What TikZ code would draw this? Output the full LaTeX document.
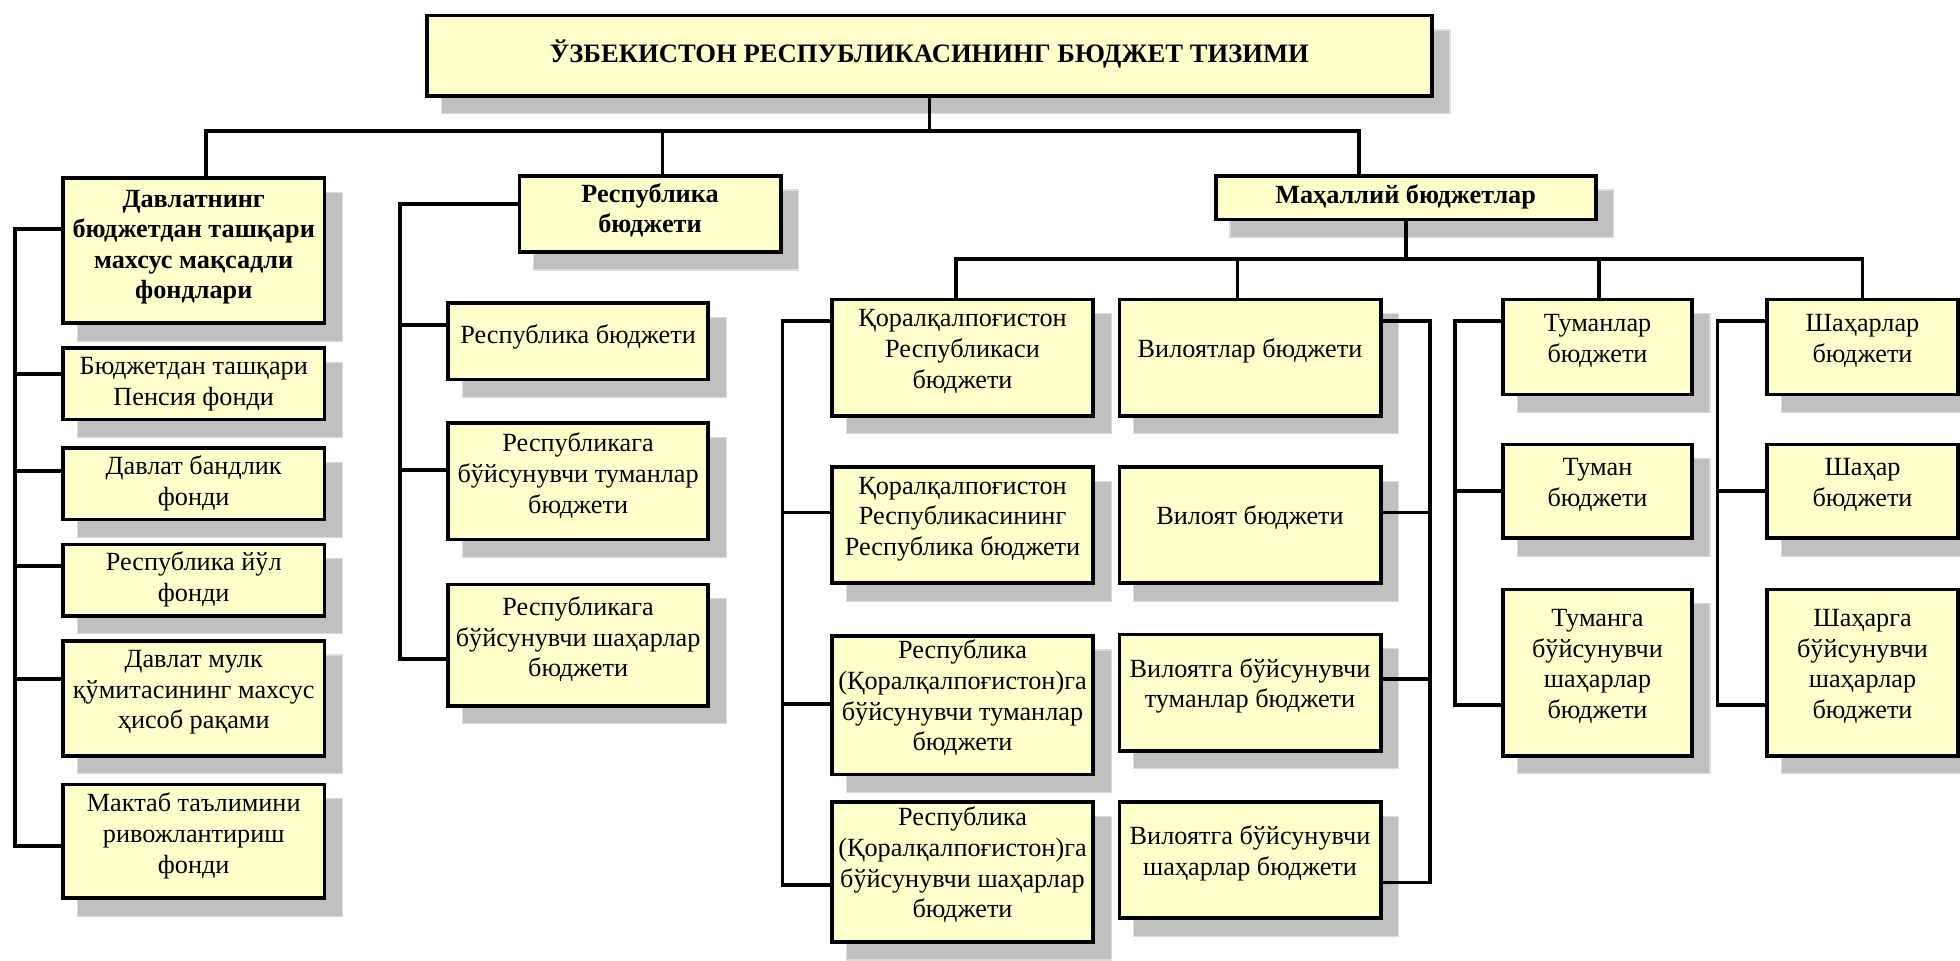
\documentclass[tikz,border=0pt]{standalone}
\usepackage{fontspec}
\setmainfont{Liberation Serif}
\definecolor{boxfill}{HTML}{FFFFCC}
\definecolor{shade}{HTML}{C0C0C0}
\definecolor{shadeedge}{HTML}{DCDCDC}
\newcommand\bodyfont{\fontsize{21}{24.5}\selectfont}
\def\rs{5pt}
\newcommand\bt[1]{\raisebox{\rs}[\height][\depth]{\begin{tabular}{@{}c@{}}#1\end{tabular}}}
\tikzset{
  bx/.style={draw=black, line width=3pt, fill=boxfill, inner sep=0pt, font=\bodyfont},
  conn/.style={draw=black, line width=3pt},
  shadowbox/.style={fill=shade, draw=shadeedge, line width=1pt}
}
% [font/extra] name x1 y1 x2 y2 text
\newcommand\bx[7][]{%
  \path[shadowbox] ({#3+13},{#4+13}) rectangle ({#5+13},{#6+13});
  \node[bx, minimum width={(#5-#3-3)*1pt}, minimum height={(#6-#4-3)*1pt}] (#2) at ({(#3+#5)/2},{(#4+#6)/2}) {#1\bt{#7}};
}
\begin{document}
\begin{tikzpicture}[x=1pt, y=-1pt]
\useasboundingbox (0,0) rectangle (1568,768);

\bx[\bfseries\fontsize{21.3}{25}\selectfont\def\rs{0pt}]{title}{340}{11}{1147}{78}{ЎЗБЕКИСТОН РЕСПУБЛИКАСИНИНГ БЮДЖЕТ ТИЗИМИ}

\bx[\bfseries\def\rs{3pt}]{A}{49}{141}{261}{260}{Давлатнинг\\бюджетдан ташқари\\махсус мақсадли\\фондлари}
\bx[\def\rs{0pt}]{a1}{49}{277}{261}{337}{Бюджетдан ташқари\\Пенсия фонди}
\bx[\def\rs{0pt}]{a2}{49}{357}{261}{417}{Давлат бандлик\\фонди}
\bx[\def\rs{0pt}]{a3}{49}{434}{261}{494}{Республика йўл\\фонди}
\bx{a4}{49}{511}{261}{606}{Давлат мулк\\қўмитасининг махсус\\ҳисоб рақами}
\bx[\def\rs{4pt}]{a5}{49}{626}{261}{720}{Мактаб таълимини\\ривожлантириш\\фонди}

\bx[\bfseries\def\rs{2pt}]{B}{414}{139}{626}{203}{Республика\\бюджети}
\bx[\def\rs{3pt}]{b1}{357}{241}{568}{305}{Республика бюджети}
\bx[\def\rs{4pt}]{b2}{357}{337}{568}{433}{Республикага\\бўйсунувчи туманлар\\бюджети}
\bx[\def\rs{4pt}]{b3}{357}{466}{568}{566}{Республикага\\бўйсунувчи шаҳарлар\\бюджети}

\bx[\bfseries\def\rs{0pt}]{C}{971}{139}{1278}{177}{Маҳаллий бюджетлар}

\bx{q1}{664}{238}{876}{334}{Қоралқалпоғистон\\Республикаси\\бюджети}
\bx{q2}{664}{372}{876}{468}{Қоралқалпоғистон\\Республикасининг\\Республика бюджети}
\bx{q3}{664}{507}{876}{621}{Республика\\(Қоралқалпоғистон)га\\бўйсунувчи туманлар\\бюджети}
\bx{q4}{664}{640}{876}{755}{Республика\\(Қоралқалпоғистон)га\\бўйсунувчи шаҳарлар\\бюджети}

\bx{v1}{894}{238}{1106}{334}{Вилоятлар бюджети}
\bx{v2}{894}{372}{1106}{468}{Вилоят бюджети}
\bx{v3}{894}{506}{1106}{602}{Вилоятга бўйсунувчи\\туманлар бюджети}
\bx{v4}{894}{640}{1106}{736}{Вилоятга бўйсунувчи\\шаҳарлар бюджети}

\bx{t1}{1201}{238}{1355}{317}{Туманлар\\бюджети}
\bx{t2}{1201}{354}{1355}{432}{Туман\\бюджети}
\bx{t3}{1201}{470}{1355}{606}{Туманга\\бўйсунувчи\\шаҳарлар\\бюджети}

\bx{s1}{1412}{238}{1568}{317}{Шаҳарлар\\бюджети}
\bx{s2}{1412}{354}{1568}{432}{Шаҳар\\бюджети}
\bx{s3}{1412}{470}{1568}{606}{Шаҳарга\\бўйсунувчи\\шаҳарлар\\бюджети}

% top bus
\coordinate (bl) at (165,105);
\coordinate (bm) at (530,105);
\coordinate (br) at (1087,105);
\draw[conn] (title.south) -- (title.south |- bl);
\draw[conn] (bl |- A.north) -- (bl) -- (br) -- (br |- C.north);
\draw[conn] (bm) -- (bm |- B.north);

% local budgets bus
\coordinate (m1) at (765,207);
\coordinate (m2) at (990,207);
\coordinate (m3) at (1279,207);
\coordinate (m4) at (1490,207);
\draw[conn] (C.south) -- (C.south |- m1);
\draw[conn] (m1 |- q1.north) -- (m1) -- (m4) -- (m4 |- s1.north);
\draw[conn] (m2) -- (m2 |- v1.north);
\draw[conn] (m3) -- (m3 |- t1.north);

% left spine
\coordinate (LS) at (12,0);
\draw[conn] (A.west |- 0,183) -- (LS |- 0,183) -- (LS |- 0,677) -- (a5.west |- 0,677);
\draw[conn] (a1.west |- 0,299) -- (LS |- 0,299);
\draw[conn] (a2.west |- 0,377) -- (LS |- 0,377);
\draw[conn] (a3.west |- 0,453) -- (LS |- 0,453);
\draw[conn] (a4.west |- 0,543) -- (LS |- 0,543);

% republic spine
\coordinate (RS) at (320,0);
\draw[conn] (B.west |- 0,163) -- (RS |- 0,163) -- (RS |- 0,527) -- (b3.west |- 0,527);
\draw[conn] (b1.west |- 0,260) -- (RS |- 0,260);
\draw[conn] (b2.west |- 0,376) -- (RS |- 0,376);

% Qoraqalpog'iston spine
\coordinate (QS) at (626,0);
\draw[conn] (q1.west |- 0,257) -- (QS |- 0,257) -- (QS |- 0,708) -- (q4.west |- 0,708);
\draw[conn] (q2.west |- 0,410) -- (QS |- 0,410);
\draw[conn] (q3.west |- 0,563) -- (QS |- 0,563);

% viloyat spine
\coordinate (VS) at (1144,0);
\draw[conn] (v1.east |- 0,257) -- (VS |- 0,257) -- (VS |- 0,706) -- (v4.east |- 0,706);
\draw[conn] (v2.east |- 0,410) -- (VS |- 0,410);
\draw[conn] (v3.east |- 0,543) -- (VS |- 0,543);

% tuman spine
\coordinate (TS) at (1164,0);
\draw[conn] (t1.west |- 0,257) -- (TS |- 0,257) -- (TS |- 0,564) -- (t3.west |- 0,564);
\draw[conn] (t2.west |- 0,393) -- (TS |- 0,393);

% shahar spine
\coordinate (SS) at (1374,0);
\draw[conn] (s1.west |- 0,257) -- (SS |- 0,257) -- (SS |- 0,564) -- (s3.west |- 0,564);
\draw[conn] (s2.west |- 0,393) -- (SS |- 0,393);
\end{tikzpicture}
\end{document}
